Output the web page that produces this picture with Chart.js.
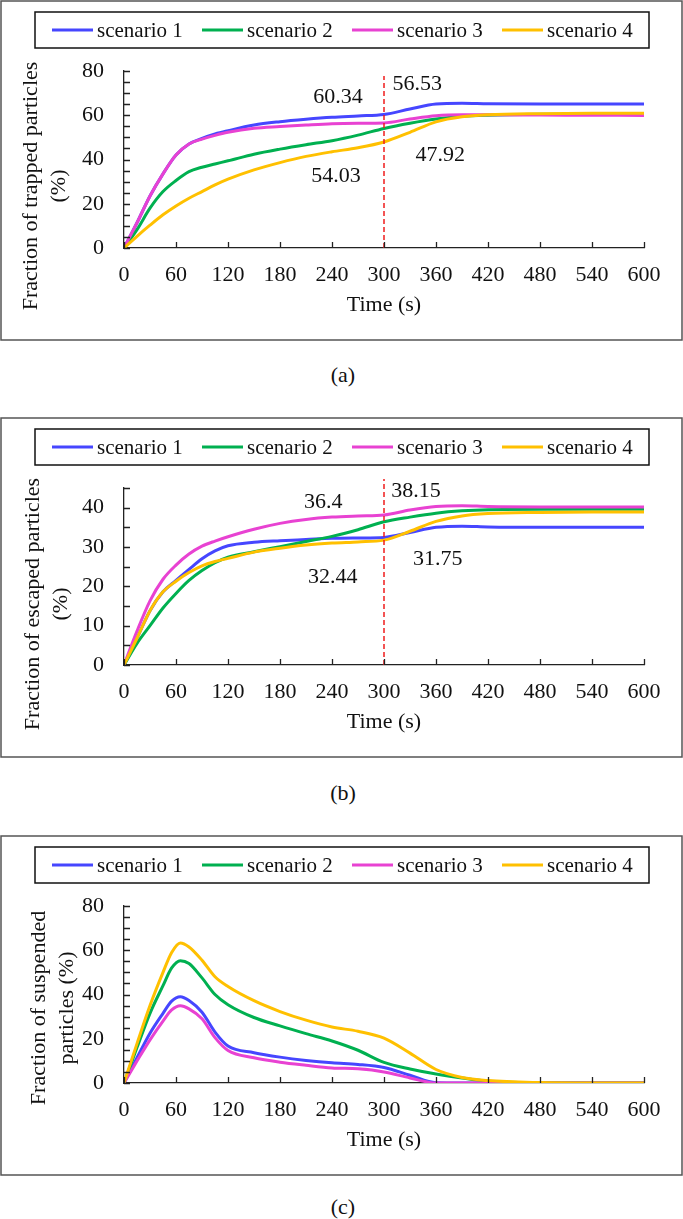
<!DOCTYPE html>
<html>
<head>
<meta charset="utf-8">
<script src="https://cdn.jsdelivr.net/npm/chart.js@4.4.1/dist/chart.umd.min.js"></script>
<style>
  body { margin: 0; background: #fff; width: 683px; height: 1219px; position: relative; overflow: hidden;
         font-family: "Liberation Serif", "Times New Roman", serif; }
  canvas { position: absolute; left: 0; }
  .cap { position: absolute; left: 0; width: 686px; text-align: center; font-size: 22px; line-height: 26px; color: #111; }
</style>
</head>
<body>
<canvas id="chartA" width="683" height="342" style="top:0px"></canvas>
<div class="cap" style="top:362px">(a)</div>
<canvas id="chartB" width="683" height="342" style="top:417px"></canvas>
<div class="cap" style="top:780px">(b)</div>
<canvas id="chartC" width="683" height="342" style="top:835px"></canvas>
<div class="cap" style="top:1194px">(c)</div>

<script>
"use strict";

// series names and colours
var seriesNames = ["scenario 1", "scenario 2", "scenario 3", "scenario 4"];
var seriesColors = ["#4646ff", "#00b050", "#e842d2", "#ffc000"];

// time axis (s)
var timeAB = [0, 15, 30, 45, 60, 75, 90, 105, 120, 150, 180, 210, 240, 270, 300, 330, 360, 390, 420, 480, 540, 600];
var timeC = [0, 15, 30, 45, 55, 65, 75, 90, 105, 120, 150, 180, 210, 240, 270, 300, 330, 360, 390, 420, 480, 540, 600];
var xTickStep = 60;

// (a) fraction of trapped particles (%)
var trapped1 = [0, 11.4, 23.5, 33.5, 42, 47, 49.5, 51.5, 53, 55.6, 57.1, 58.2, 59.1, 59.7, 60.34, 62.8, 65.1, 65.4, 65.2, 65.1, 65.1, 65.1];
var trapped2 = [0, 8.3, 18, 25.5, 30.5, 34.5, 36.5, 38, 39.4, 42.4, 44.7, 46.7, 48.5, 51, 54.03, 56.4, 58.3, 59.5, 60, 60.4, 60.5, 60.5];
var trapped3 = [0, 11.4, 23.5, 33.5, 42, 47, 49.2, 50.9, 52.3, 54.1, 54.9, 55.6, 56.2, 56.4, 56.53, 58.3, 59.8, 60.2, 60.2, 60.1, 60, 59.9];
var trapped4 = [0, 5.3, 10.3, 15, 19, 22.5, 25.5, 28.5, 31.1, 35.3, 38.6, 41.4, 43.5, 45.3, 47.92, 52.3, 57, 59.3, 60.2, 60.7, 60.9, 60.9];

// (b) fraction of escaped particles (%)
var escaped1 = [0, 6.8, 13.8, 18.6, 21.5, 24.3, 27, 29, 30.3, 31.2, 31.6, 31.9, 32.2, 32.3, 32.44, 33.7, 35, 35.3, 35.1, 35, 35, 35];
var escaped2 = [0, 5.5, 10, 14.5, 18.2, 21.5, 24, 26, 27.4, 28.8, 30.1, 31.4, 32.7, 34.4, 36.4, 37.6, 38.6, 39.2, 39.5, 39.6, 39.6, 39.6];
var escaped3 = [0, 8.6, 16.3, 21.8, 25.4, 28.2, 30.2, 31.5, 32.6, 34.5, 36, 37, 37.6, 37.9, 38.15, 39.4, 40.3, 40.5, 40.3, 40.2, 40.2, 40.2];
var escaped4 = [0, 6.8, 13.8, 18.6, 21.3, 23.5, 25.2, 26.3, 27.1, 28.7, 29.7, 30.5, 31, 31.3, 31.75, 34, 36.5, 37.9, 38.5, 38.8, 38.9, 38.9];

// (c) fraction of suspended particles (%)
var suspended1 = [0, 11.4, 22.5, 31.5, 37, 39, 37.3, 32, 23, 16.7, 13.7, 11.7, 10.2, 9.1, 8.4, 7, 3.5, 0.1, 0, 0, 0, 0, 0];
var suspended2 = [0, 16, 31.5, 44, 52, 55.3, 54, 47.5, 40, 35.4, 29.6, 25.8, 22.3, 19, 14.8, 9.3, 6.3, 4.1, 2.3, 0.8, 0.1, 0, 0];
var suspended3 = [0, 9.9, 19.5, 28, 33, 34.9, 33.5, 29, 20.5, 14.7, 11.4, 9.4, 8, 6.8, 6.4, 5, 2.3, 0, 0, 0, 0, 0, 0];
var suspended4 = [0, 17.8, 35, 50, 59, 63.3, 61.5, 55.5, 48, 43.6, 37.2, 32.3, 28.4, 25.3, 23.4, 20.3, 13.5, 6.1, 2.5, 1.1, 0.2, 0, 0];

// red dashed marker at t = 300 s (top end in y units)
var markerTime = 300;
var markerTopA = 77.7;
var markerTopB = 47.3;

// value labels and where they sit (data units)
var notesTextA = ["60.34", "56.53", "47.92", "54.03"];
var notesAtA = [[247, 68.2], [338.5, 73.9], [365, 42], [244.5, 32.3]];
var notesTextB = ["36.4", "38.15", "31.75", "32.44"];
var notesAtB = [[230, 41.5], [337, 44.1], [362, 26.9], [241, 22.4]];

var FONT = '"Liberation Serif", "Times New Roman", serif';

function pts(times, vals) {
    return times.map(function (t, i) { return { x: t, y: vals[i] }; });
}

// frame, legend, inside ticks, titles, value labels
var decor = {
    id: "decor",
    afterDraw: function (chart, args, o) {
        var ctx = chart.ctx;
        var area = chart.chartArea;
        var xs = chart.scales.x, ys = chart.scales.y;
        ctx.save();

        ctx.strokeStyle = "#555";
        ctx.lineWidth = 1.5;
        ctx.strokeRect(1, 1, chart.width - 2, chart.height - 3);

        ctx.strokeStyle = "#111";
        ctx.strokeRect(35, 12, 614, 36);
        ctx.font = "21px " + FONT;
        ctx.textBaseline = "middle";
        ctx.textAlign = "left";
        ctx.fillStyle = "#111";
        seriesNames.forEach(function (name, i) {
            var x0 = 52 + i * 150;
            ctx.strokeStyle = seriesColors[i];
            ctx.lineWidth = 3;
            ctx.beginPath();
            ctx.moveTo(x0, 30);
            ctx.lineTo(x0 + 41, 30);
            ctx.stroke();
            ctx.fillText(name, x0 + 45, 31);
        });

        ctx.strokeStyle = "#222";
        ctx.lineWidth = 1.3;
        ctx.beginPath();
        xs.ticks.forEach(function (t) {
            var px = Math.round(xs.getPixelForValue(t.value)) + 0.5;
            ctx.moveTo(px, area.bottom);
            ctx.lineTo(px, area.bottom - 6);
        });
        ys.ticks.forEach(function (t) {
            var py = Math.round(ys.getPixelForValue(t.value)) + 0.5;
            ctx.moveTo(area.left, py);
            ctx.lineTo(area.left + 6, py);
        });
        ctx.stroke();

        ctx.fillStyle = "#111";
        ctx.font = "22px " + FONT;
        ctx.textAlign = "center";
        ctx.fillText("Time (s)", (area.left + area.right) / 2, 305);
        o.yTitle.forEach(function (line, i) {
            ctx.save();
            ctx.translate(o.yTitleX[i], o.yTitleY);
            ctx.rotate(-Math.PI / 2);
            ctx.fillText(line, 0, 0);
            ctx.restore();
        });

        (o.notesText || []).forEach(function (txt, i) {
            var at = o.notesAt[i];
            ctx.fillText(txt, xs.getPixelForValue(at[0]), ys.getPixelForValue(at[1]));
        });
        ctx.restore();
    }
};

function makePanel(id, times, series, yMax, labelStep, markerTop, decorOpts) {
    var datasets = series.map(function (vals, i) {
        return {
            label: seriesNames[i],
            data: pts(times, vals),
            borderColor: seriesColors[i],
            backgroundColor: seriesColors[i],
            borderWidth: 3,
            pointRadius: 0,
            fill: false,
            cubicInterpolationMode: "monotone",
            order: 4 - i
        };
    });
    if (markerTop !== null) {
        datasets.push({
            label: "t = 300 s",
            data: [{ x: markerTime, y: 0 }, { x: markerTime, y: markerTop }],
            borderColor: "#f01c1c",
            borderWidth: 1.5,
            borderDash: [5, 3],
            pointRadius: 0,
            fill: false,
            tension: 0,
            clip: false,
            order: 0
        });
    }

    return new Chart(document.getElementById(id).getContext("2d"), {
        type: "line",
        data: { datasets: datasets },
        plugins: [decor],
        options: {
            responsive: false,
            animation: false,
            devicePixelRatio: 1,
            layout: { padding: { top: 71, right: 39, left: 0, bottom: 0 } },
            plugins: {
                legend: { display: false },
                tooltip: { enabled: false },
                decor: decorOpts
            },
            scales: {
                x: {
                    type: "linear",
                    min: 0,
                    max: 600,
                    grid: { display: false, drawTicks: false },
                    border: { display: true, color: "#222", width: 1.3 },
                    ticks: {
                        stepSize: xTickStep,
                        autoSkip: false,
                        maxRotation: 0,
                        padding: 14,
                        color: "#111",
                        font: { family: FONT, size: 22 }
                    },
                    afterFit: function (s) { s.height = 94; }
                },
                y: {
                    min: 0,
                    max: yMax,
                    grid: { display: false, drawTicks: false },
                    border: { display: true, color: "#222", width: 1.3 },
                    ticks: {
                        stepSize: 5,
                        autoSkip: false,
                        padding: 20,
                        color: "#111",
                        font: { family: FONT, size: 22 },
                        callback: function (v) { return v % labelStep === 0 ? v : ""; }
                    },
                    afterFit: function (s) { s.width = 124; }
                }
            }
        }
    });
}

makePanel("chartA", timeAB, [trapped1, trapped2, trapped3, trapped4], 80, 20, markerTopA, {
    yTitle: ["Fraction of trapped particles", "(%)"],
    yTitleX: [31, 59],
    yTitleY: 186,
    notesText: notesTextA,
    notesAt: notesAtA
});

makePanel("chartB", timeAB, [escaped1, escaped2, escaped3, escaped4], 45, 10, markerTopB, {
    yTitle: ["Fraction of escaped particles", "(%)"],
    yTitleX: [33, 61],
    yTitleY: 187,
    notesText: notesTextB,
    notesAt: notesAtB
});

makePanel("chartC", timeC, [suspended1, suspended2, suspended3, suspended4], 80, 20, null, {
    yTitle: ["Fraction of suspended", "particles (%)"],
    yTitleX: [39, 67],
    yTitleY: 173
});
</script>
</body>
</html>
